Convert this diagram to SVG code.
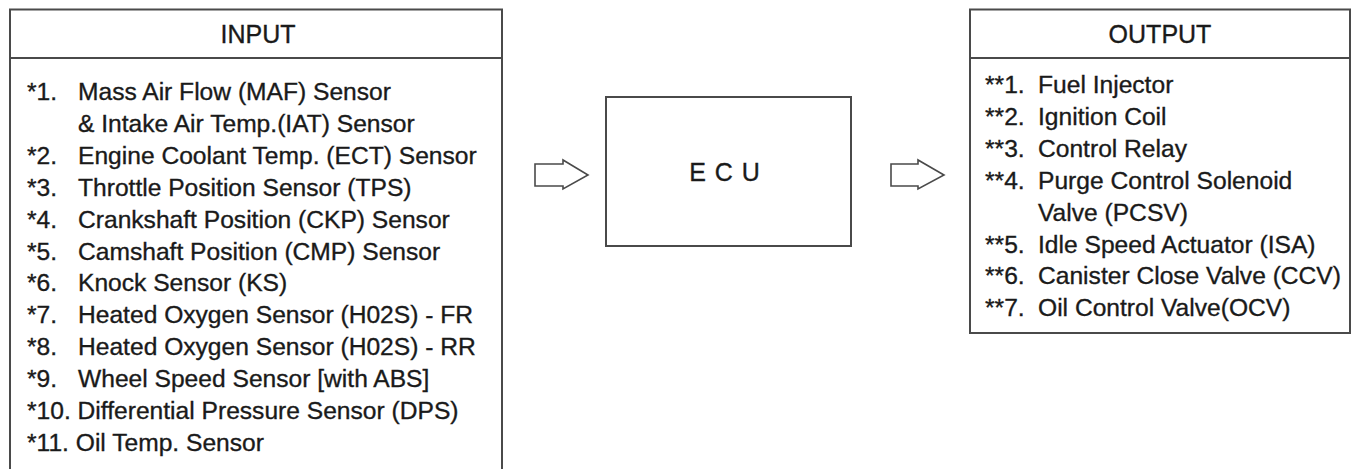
<svg xmlns="http://www.w3.org/2000/svg" width="1354" height="469" viewBox="0 0 1354 469">
  <style>
    .frame { fill: #ffffff; stroke: #4a4a4a; stroke-width: 2; }
    .rule { stroke: #4a4a4a; stroke-width: 2; fill: none; }
    .t { font-family: "Liberation Sans", Arial, sans-serif; font-size: 24.6px; fill: #1a1a1a; stroke: #1a1a1a; stroke-width: 0.35; }
    .head { text-anchor: middle; font-size: 25px; }
    .arrow { fill: #ffffff; stroke: #4a4a4a; stroke-width: 1.6; stroke-linejoin: miter; }
  </style>
  <rect width="1354" height="469" fill="#ffffff"/>

  <!-- Input box (open at the bottom edge) -->
  <g id="input">
    <path class="rule" d="M10,480 V9.5 H502 V480"/>
    <line class="rule" x1="10" y1="58" x2="502" y2="58"/>
    <text class="t head" x="258" y="43">INPUT</text>
    <g class="t">
      <text x="27" y="100">*1.</text><text x="78" y="100">Mass Air Flow (MAF) Sensor</text>
      <text x="78" y="131.9">&amp; Intake Air Temp.(IAT) Sensor</text>
      <text x="27" y="163.8">*2.</text><text x="78" y="163.8">Engine Coolant Temp. (ECT) Sensor</text>
      <text x="27" y="195.7">*3.</text><text x="78" y="195.7">Throttle Position Sensor (TPS)</text>
      <text x="27" y="227.6">*4.</text><text x="78" y="227.6">Crankshaft Position (CKP) Sensor</text>
      <text x="27" y="259.5">*5.</text><text x="78" y="259.5">Camshaft Position (CMP) Sensor</text>
      <text x="27" y="291.4">*6.</text><text x="78" y="291.4">Knock Sensor (KS)</text>
      <text x="27" y="323.3">*7.</text><text x="78" y="323.3">Heated Oxygen Sensor (H02S) - FR</text>
      <text x="27" y="355.2">*8.</text><text x="78" y="355.2">Heated Oxygen Sensor (H02S) - RR</text>
      <text x="27" y="387.1">*9.</text><text x="78" y="387.1">Wheel Speed Sensor [with ABS]</text>
      <text x="27" y="419">*10. Differential Pressure Sensor (DPS)</text>
      <text x="27" y="450.9">*11. Oil Temp. Sensor</text>
    </g>
  </g>

  <!-- Control unit -->
  <g id="ecu">
    <rect class="frame" x="606" y="97" width="245" height="149"/>
    <text class="t head" x="725" y="181" letter-spacing="1">E C U</text>
  </g>

  <!-- Output box -->
  <g id="output">
    <rect class="frame" x="970" y="9.5" width="380" height="323.5"/>
    <line class="rule" x1="970" y1="58" x2="1350" y2="58"/>
    <text class="t head" x="1160" y="43">OUTPUT</text>
    <g class="t">
      <text x="985" y="93">**1.</text><text x="1038" y="93">Fuel Injector</text>
      <text x="985" y="124.9">**2.</text><text x="1038" y="124.9">Ignition Coil</text>
      <text x="985" y="156.8">**3.</text><text x="1038" y="156.8">Control Relay</text>
      <text x="985" y="188.7">**4.</text><text x="1038" y="188.7">Purge Control Solenoid</text>
      <text x="1038" y="220.6">Valve (PCSV)</text>
      <text x="985" y="252.5">**5.</text><text x="1038" y="252.5">Idle Speed Actuator (ISA)</text>
      <text x="985" y="284.4">**6.</text><text x="1038" y="284.4">Canister Close Valve (CCV)</text>
      <text x="985" y="316.3">**7.</text><text x="1038" y="316.3">Oil Control Valve(OCV)</text>
    </g>
  </g>

  <!-- Hollow flow arrows -->
  <g id="connectors">
    <path class="arrow" d="M535,164 H563 V160 L588,175 L563,189 V186 H535 Z"/>
    <path class="arrow" d="M891,164 H918 V160 L944,175 L918,189 V186 H891 Z"/>
  </g>
</svg>
